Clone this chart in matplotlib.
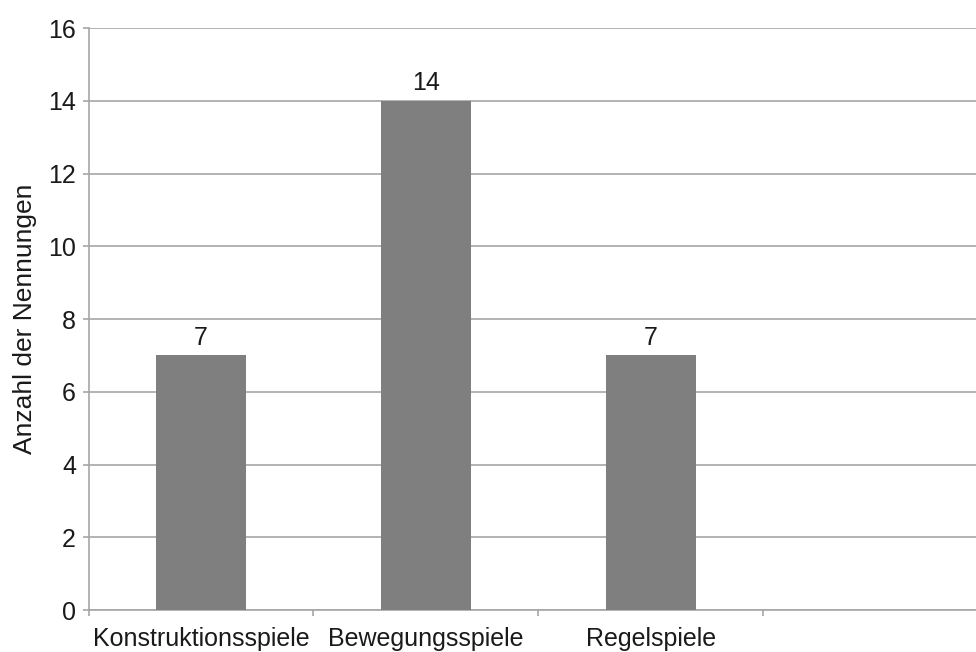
import numpy as np
import matplotlib.pyplot as plt
from matplotlib.transforms import offset_copy

plt.rcParams['font.family'] = ['Liberation Sans', 'DejaVu Sans']

kategorien = ['Konstruktionsspiele', 'Bewegungsspiele', 'Regelspiele']
nennungen = [7, 14, 7]
y_ticks = [0, 2, 4, 6, 8, 10, 12, 14, 16]

grau = '#a6a6a6'
schrift = '#1a1a1a'
fig = plt.figure(figsize=(9.76, 6.52), dpi=100)
# four category slots, the last one stays empty and runs past the right edge
ax = fig.add_axes([0.0907, 0.0644, 0.922, 0.8926])

x = np.arange(len(kategorien))
ax.bar(x, nennungen, width=0.4, color='#7f7f7f', zorder=3)
for xi, n in zip(x, nennungen):
    ax.text(xi, n + 0.15, str(n), ha='center', va='bottom', fontsize=18, color=schrift)

ax.set_xlim(-0.5, 3.5)
ax.set_ylim(0, 16)
ax.set_yticks(y_ticks)
ax.yaxis.grid(True, color=grau, linewidth=1.2, zorder=0)
ax.set_axisbelow(True)

# tick marks only on the category boundaries
ax.set_xticks(np.arange(-0.5, 3.6, 1.0))
ax.set_xticklabels([])
ax.tick_params(axis='x', length=4, color=grau, width=1.2)
ax.tick_params(axis='y', length=4, color=grau, width=1.2, labelsize=18,
               labelcolor=schrift, pad=5)

# category names under the bars
tr = offset_copy(ax.get_xaxis_transform(), fig=fig, x=0, y=-26, units='points')
for xi, name in zip(x, kategorien):
    ax.text(xi, 0, name, transform=tr, ha='center', va='baseline',
            fontsize=18, color=schrift)

for s in ['top', 'right']:
    ax.spines[s].set_visible(False)
ax.spines['left'].set_color(grau)
ax.spines['bottom'].set_color(grau)
ax.spines['left'].set_linewidth(1.2)
ax.spines['bottom'].set_linewidth(1.2)

ax.set_ylabel('Anzahl der Nennungen', fontsize=19, color=schrift, labelpad=8)

fig.savefig('out.png', dpi=100)
